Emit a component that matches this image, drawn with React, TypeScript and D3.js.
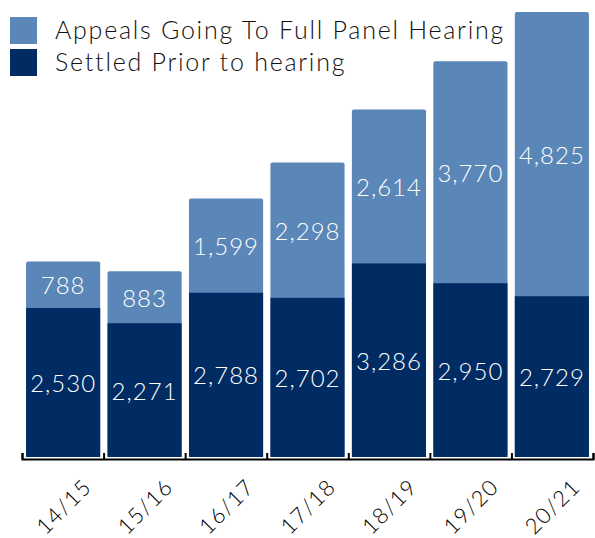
import { useEffect, useRef } from "react";
import * as d3 from "d3";

const years = ["14/15", "15/16", "16/17", "17/18", "18/19", "19/20", "20/21"];
const settled = [2530, 2271, 2788, 2702, 3286, 2950, 2729];
const fullPanel = [788, 883, 1599, 2298, 2614, 3770, 4825];
const legendLabels = ["Appeals Going To Full Panel Hearing", "Settled Prior to hearing"];

const LIGHT = "#5b86b8";
const DARK = "#002b63";
const FONT = "Lato, 'Open Sans', sans-serif";

const App = () => {
  const ref = useRef<SVGSVGElement>(null);

  useEffect(() => {
    const w = 595;
    const h = 538;
    const svg = d3.select(ref.current).attr("width", w).attr("height", h);
    svg.selectAll("*").remove();

    const left = 22;
    const right = 593;
    const base = 457;

    const x = d3.scaleBand().domain(years).range([left, right]).paddingInner(0.09).paddingOuter(0.05);
    const totals = years.map((_, i) => settled[i] + fullPanel[i]);
    const y = d3.scaleLinear().domain([0, d3.max(totals) as number]).range([base, 12]);
    const fmt = d3.format(",");

    const rows = years.map((yr, i) => ({ yr, s: settled[i], f: fullPanel[i], t: totals[i] }));

    const g = svg.append("g");

    // light segment drawn full height so its rounded top shows, dark on top of it
    g.selectAll(".top")
      .data(rows)
      .join("rect")
      .attr("x", (d) => x(d.yr) as number)
      .attr("y", (d) => y(d.t))
      .attr("width", x.bandwidth())
      .attr("height", (d) => base - y(d.t))
      .attr("rx", 2)
      .attr("fill", LIGHT);

    g.selectAll(".bottom")
      .data(rows)
      .join("rect")
      .attr("x", (d) => x(d.yr) as number)
      .attr("y", (d) => y(d.s))
      .attr("width", x.bandwidth())
      .attr("height", (d) => base - y(d.s))
      .attr("fill", DARK);

    const labels = svg.append("g").attr("font-family", FONT).attr("font-size", 24).attr("font-weight", 300)
      .attr("letter-spacing", 1).attr("fill", "#fff")
      .attr("text-anchor", "middle").attr("dominant-baseline", "central");

    labels.selectAll(".lt")
      .data(rows)
      .join("text")
      .attr("x", (d) => (x(d.yr) as number) + x.bandwidth() / 2)
      .attr("y", (d) => (y(d.t) + y(d.s)) / 2)
      .text((d) => fmt(d.f));

    labels.selectAll(".lb")
      .data(rows)
      .join("text")
      .attr("x", (d) => (x(d.yr) as number) + x.bandwidth() / 2)
      .attr("y", (d) => (y(d.s) + base) / 2)
      .text((d) => fmt(d.s));

    // axis with ticks at the band edges, pointing up
    const edges = d3.scaleLinear().domain([0, years.length]).range([left, right]);
    const axis = d3.axisBottom(edges)
      .tickValues(d3.range(years.length + 1))
      .tickSizeInner(-6)
      .tickSizeOuter(-6)
      .tickFormat(() => "");
    const ax = svg.append("g").attr("transform", `translate(0,${base + 2})`).call(axis);
    ax.selectAll("path, line").attr("stroke", "#000").attr("stroke-width", 2);

    svg.append("g")
      .selectAll("text")
      .data(years)
      .join("text")
      .attr("transform", (d) => `translate(${(x(d) as number) + x.bandwidth() / 2},506) rotate(-45)`)
      .attr("text-anchor", "middle")
      .attr("dominant-baseline", "central")
      .attr("font-family", FONT)
      .attr("font-size", 22)
      .attr("font-weight", 300)
      .attr("letter-spacing", 1.3)
      .attr("fill", "#000")
      .text((d) => d);

    const legend = svg.append("g")
      .selectAll("g")
      .data(legendLabels)
      .join("g")
      .attr("transform", (_, i) => `translate(10,${17 + i * 32})`);
    legend.append("rect").attr("width", 27).attr("height", 27).attr("fill", (_, i) => (i === 0 ? LIGHT : DARK));
    legend.append("text")
      .attr("x", 45)
      .attr("y", 22)
      .attr("font-family", FONT)
      .attr("font-size", 25)
      .attr("font-weight", 300)
      .attr("letter-spacing", 1.75)
      .attr("fill", "#111")
      .text((d) => d);
  }, []);

  return <svg ref={ref} style={{ position: "absolute", left: 0, top: 0 }}></svg>;
};

export default App;
